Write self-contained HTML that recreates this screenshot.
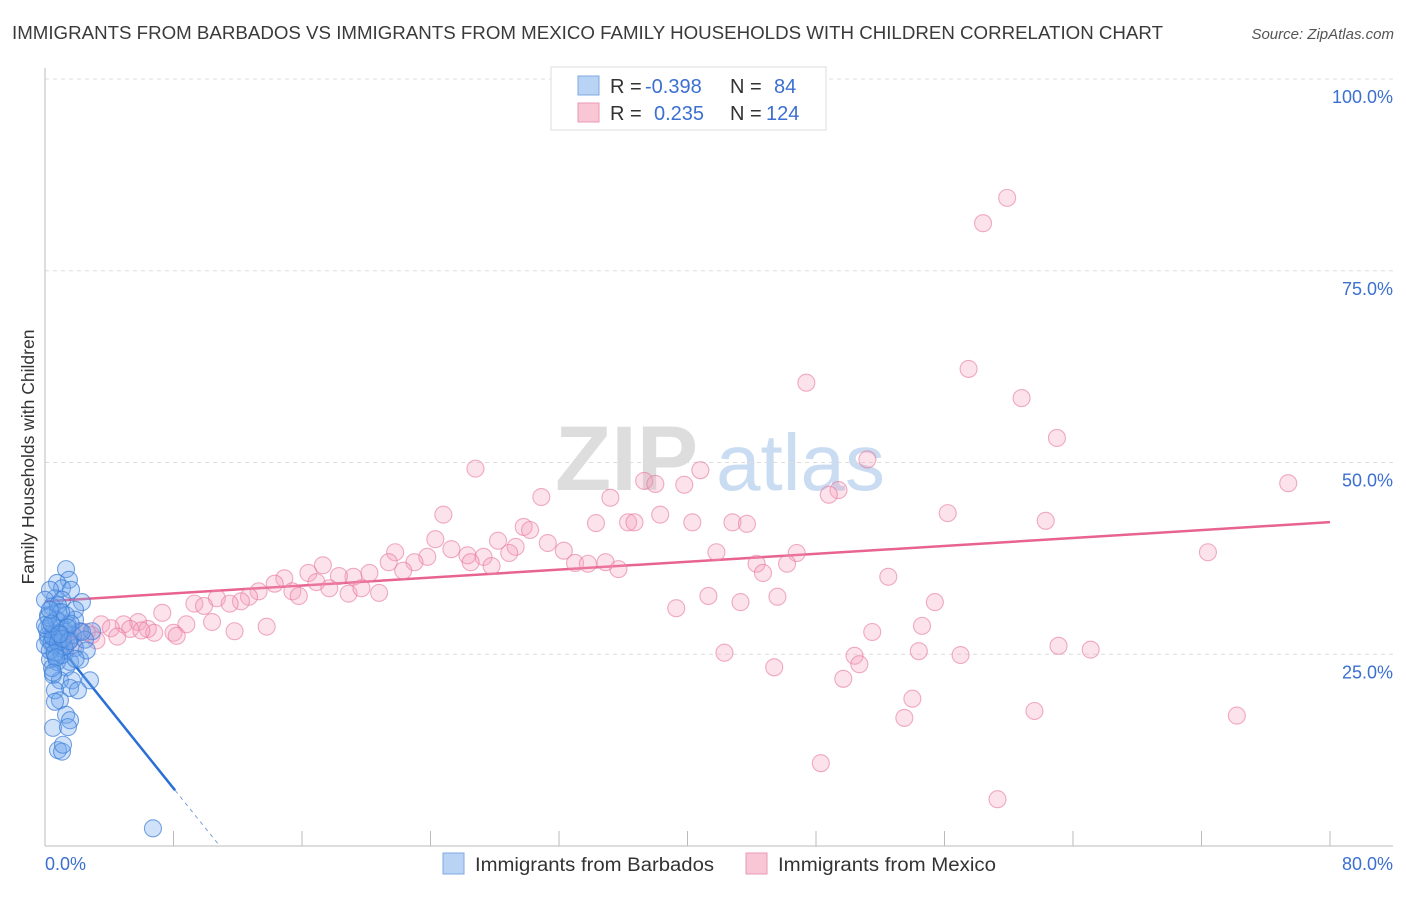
<!DOCTYPE html>
<html><head><meta charset="utf-8"><style>
body{margin:0;background:#fff;font-family:"Liberation Sans",sans-serif;}
svg text{font-family:"Liberation Sans",sans-serif;}
</style></head><body>
<svg id="chart" width="1406" height="892" xmlns="http://www.w3.org/2000/svg">
<text x="12" y="39" font-size="18" fill="#3a3a3a" textLength="1151" lengthAdjust="spacingAndGlyphs">IMMIGRANTS FROM BARBADOS VS IMMIGRANTS FROM MEXICO FAMILY HOUSEHOLDS WITH CHILDREN CORRELATION CHART</text>
<text x="1394" y="39" font-size="15" fill="#555" font-style="italic" text-anchor="end">Source: ZipAtlas.com</text>
<g>
<text x="555" y="490" font-size="92" fill="#ddd" font-family="Liberation Serif" font-weight="bold">ZIP</text>
<text x="716" y="490" font-size="80" fill="#c9dcf2">atlas</text>
</g>
<g id="grid"></g>
<g id="axes"></g>
<g id="trends"></g>
<g id="pts"></g>
<text transform="translate(34,457) rotate(-90)" font-size="17.5" fill="#333" text-anchor="middle">Family Households with Children</text>
<g>
<rect x="551" y="67" width="275" height="63" fill="#fff" stroke="#ddd"/>
<rect x="578" y="76" width="21" height="19" fill="#b9d3f5" stroke="#7fa8e0"/>
<rect x="578" y="103" width="21" height="19" fill="#f9c6d6" stroke="#eb9bb6"/>
<text x="610" y="93" font-size="20" fill="#333">R = <tspan fill="#3b6fd0" x="645">-0.398</tspan></text>
<text x="730" y="93" font-size="20" fill="#333">N = <tspan fill="#3b6fd0" x="774">84</tspan></text>
<text x="610" y="120" font-size="20" fill="#333">R = <tspan fill="#3b6fd0" x="654">0.235</tspan></text>
<text x="730" y="120" font-size="20" fill="#333">N = <tspan fill="#3b6fd0" x="766">124</tspan></text>
</g>
<g>
<rect x="443" y="853" width="21" height="21" fill="#b9d3f5" stroke="#7fa8e0"/>
<text x="475" y="871" font-size="19" fill="#333" textLength="239" lengthAdjust="spacingAndGlyphs">Immigrants from Barbados</text>
<rect x="746" y="853" width="21" height="21" fill="#f9c6d6" stroke="#eb9bb6"/>
<text x="778" y="871" font-size="19" fill="#333" textLength="218" lengthAdjust="spacingAndGlyphs">Immigrants from Mexico</text>
</g>
</svg>
<script>
const yTicks=[25,50,75,100];
const yTickLabels=["25.0%","50.0%","75.0%","100.0%"];
const xTicks=[0,8,16,24,32,40,48,56,64,72,80];
const barbadosX=[1.31,1.49,0.75,1.06,1.62,0.62,1.06,2.30,1.87,0.44,0.81,0.93,1.43,0.31,0.44,0.68,1.56,2.18,2.93,0.93,0.62,1.25,1.87,0.31,0.75,1.56,1.31,2.18,0.50,0.93,1.68,1.56,2.80,0.62,0.93,0.62,1.31,1.56,0.50,1.43,0.81,1.06,1.12,6.72,0.0,0.19,0.31,1.18,0.56,1.87,0,0.19,1.06,0.44,2.05,0.81,1.31,1.74,2.49,2.30,1.6,0.2,0.4,0.9,1.2,0.1,0.7,1.0,0.3,0.5,1.4,0.2,0.8,1.1,0.6,0.0,0.4,1.5,0.9,0.3,0.7,2.6,1.9,0.5];
const barbadosY=[36.1,34.7,34.3,33.6,33.4,32.3,32.1,31.8,30.8,31.2,30.5,29.2,28.8,28.6,27.4,26.9,26.9,28.0,28.0,25.8,24.9,25.6,25.8,24.3,24.0,24.0,23.3,24.3,22.3,21.6,21.6,20.6,21.6,20.3,19.0,18.8,17.1,16.4,15.4,15.5,12.5,12.3,13.2,2.3,26.2,30.1,33.4,28.2,26.2,29.5,32.1,27.5,24.9,23.2,20.3,31.4,30.1,27.5,26.9,27.9,29.0,27.0,26.5,27.8,26.0,28.3,29.5,30.5,25.5,27.2,28.5,29.8,26.5,27.0,25.2,28.8,29.0,26.7,27.6,30.8,24.6,25.5,24.4,22.6];
const mexicoX=[59.9,58.4,47.4,57.5,60.8,63.0,51.2,26.8,40.8,37.3,38.0,39.8,77.4,49.4,48.8,30.9,35.2,24.8,38.3,36.3,36.7,42.8,56.2,62.3,29.8,30.2,34.3,40.3,43.7,24.3,28.2,29.3,31.3,21.8,25.3,26.3,27.3,28.9,32.3,23.8,23.0,41.8,46.8,72.4,21.4,27.8,33.0,34.9,33.8,35.7,44.3,44.7,46.2,22.3,20.2,17.3,16.4,19.2,18.3,52.5,14.9,14.3,16.9,15.4,17.7,18.9,20.8,19.7,13.3,12.7,12.2,10.7,15.8,41.3,45.6,9.3,9.9,11.5,43.3,55.4,39.3,7.3,10.4,8.8,5.8,4.9,3.5,4.1,5.3,6.4,6.8,8.0,11.8,13.8,54.6,51.5,8.2,2.1,2.6,1.6,63.1,65.1,42.3,54.4,57.0,50.4,50.7,45.4,49.7,54.0,53.5,61.6,74.2,48.3,59.3,1.0,1.3,26.5,2.9,3.2,0.8,1.8,4.5,6.0];
const mexicoY=[84.5,81.2,60.4,62.2,58.4,53.2,50.4,49.2,49.0,47.6,47.2,47.1,47.3,46.4,45.8,45.5,45.4,43.2,43.2,42.2,42.2,42.2,43.4,42.4,41.6,41.2,42.1,42.2,42.0,40.0,39.8,39.0,39.5,38.3,38.7,37.9,37.7,38.2,38.5,37.7,37.0,38.3,38.2,38.3,37.0,36.5,36.9,37.0,36.8,36.1,36.8,35.6,36.8,35.9,35.6,36.6,35.6,35.1,35.2,35.1,34.9,34.2,34.4,33.2,33.6,32.9,33.0,33.6,33.2,32.5,31.9,32.3,32.6,32.6,32.5,31.6,31.3,31.6,31.8,31.8,31.0,30.4,29.2,28.9,29.2,28.9,28.9,28.4,28.3,28.3,27.8,27.8,28.0,28.6,28.7,27.9,27.4,28.0,27.9,27.1,26.1,25.6,25.2,25.4,24.9,24.8,23.7,23.3,21.8,19.2,16.7,17.6,17.0,10.8,6.1,27.0,26.4,37.0,27.5,26.8,27.8,26.2,27.3,28.1];
const barbadosTrend=[28.4,-2.61];
const mexicoTrend=[31.9,0.129];
const X=v=>45+v/80*1285, Y=v=>846-v*7.67;
const NS="http://www.w3.org/2000/svg";
function mk(p,tag,at){const e=document.createElementNS(NS,tag);for(const k in at)e.setAttribute(k,at[k]);p.appendChild(e);return e;}
const grid=document.getElementById('grid'),axes=document.getElementById('axes'),tr=document.getElementById('trends'),pts=document.getElementById('pts');
yTicks.forEach((t,i)=>{
 const l=mk(grid,'line',{x1:45,x2:1393,y1:Y(t),y2:Y(t),stroke:'#ddd','stroke-dasharray':'4,4'});
 
 
 const tx=mk(axes,'text',{x:1393,y:Y(t)+24,'font-size':18,fill:'#3b6fd0','text-anchor':'end'});tx.textContent=yTickLabels[i];
 
 
});
const ax=mk(axes,'line',{x1:45,x2:45,y1:68,y2:846,stroke:'#bbb'});


const bx=mk(axes,'line',{x1:45,x2:1393,y1:846,y2:846,stroke:'#bbb'});


xTicks.forEach(t=>{const l=mk(axes,'line',{x1:X(t),x2:X(t),y1:831,y2:846,stroke:'#bbb'});
 
 });
const x0=mk(axes,'text',{x:45,y:870,'font-size':18,fill:'#3b6fd0'});x0.textContent='0.0%';


const x1=mk(axes,'text',{x:1393,y:870,'font-size':18,fill:'#3b6fd0','text-anchor':'end'});x1.textContent='80.0%';


function dot(x,y,f,s,n){const c=mk(pts,'circle',{cx:X(x),cy:Y(y),r:8.5,fill:f,stroke:s,'stroke-width':1.1});
 
 }
mexicoX.forEach((x,i)=>dot(x,mexicoY[i],'rgba(244,160,188,0.3)','rgba(230,120,155,0.6)','mexico-point'));
barbadosX.forEach((x,i)=>dot(x,barbadosY[i],'rgba(110,165,235,0.32)','rgba(60,125,215,0.7)','barbados-point'));
const mt=mk(tr,'line',{x1:X(0),y1:Y(mexicoTrend[0]),x2:X(80),y2:Y(mexicoTrend[0]+80*mexicoTrend[1]),stroke:'#e8638f','stroke-width':2.5});


const bEnd=8.1, bZero=-barbadosTrend[0]/barbadosTrend[1];
const bt=mk(tr,'line',{x1:X(0),y1:Y(barbadosTrend[0]),x2:X(bEnd),y2:Y(barbadosTrend[0]+bEnd*barbadosTrend[1]),stroke:'#2a6fd6','stroke-width':2.5});


const bd=mk(tr,'line',{x1:X(bEnd),y1:Y(barbadosTrend[0]+bEnd*barbadosTrend[1]),x2:X(bZero),y2:Y(0),stroke:'#7fa0d8','stroke-width':1,'stroke-dasharray':'4,4'});


</script>
</body></html>
